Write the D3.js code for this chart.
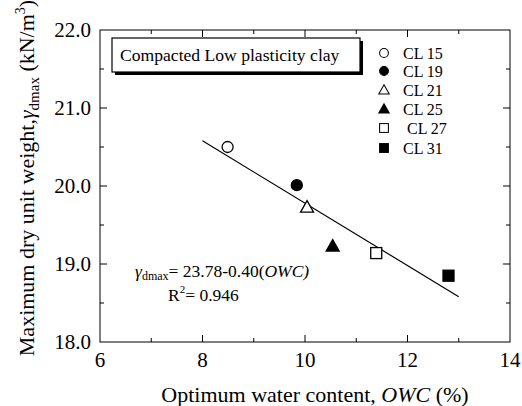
<!DOCTYPE html>
<html>
<head>
<meta charset="utf-8">
<script src="https://cdn.jsdelivr.net/npm/d3@7"></script>
<style>
  body { margin: 0; background: #fff; }
  svg { font-family: "Liberation Serif", "Times New Roman", serif; }
</style>
</head>
<body>
<svg id="chart" width="522" height="406"></svg>
<script>
// data
var samples = ["CL 15", "CL 19", "CL 21", "CL 25", "CL 27", "CL 31"];
var owc = [8.49, 9.84, 10.04, 10.54, 11.39, 12.80];
var gammaMax = [20.50, 20.01, 19.73, 19.23, 19.14, 18.85];
var shapes = ["circle", "circle", "triangle", "triangle", "square", "square"];
var filled = [false, true, false, true, false, true];
var fitX = [8.0, 13.0];
var xTicks = [6, 8, 10, 12, 14];
var yTicks = [18.0, 19.0, 20.0, 21.0, 22.0];

var margin = {top: 30, right: 12, bottom: 64, left: 100},
    width = 522 - margin.left - margin.right,
    height = 406 - margin.top - margin.bottom;

var svg = d3.select("#chart")
  .append("g")
  .attr("transform", "translate(" + margin.left + "," + margin.top + ")");

var x = d3.scaleLinear().domain([6, 14]).range([0, width]);
var y = d3.scaleLinear().domain([18, 22]).range([height, 0]);

// frame
svg.append("rect")
  .attr("width", width).attr("height", height)
  .attr("fill", "none").attr("stroke", "#000").attr("stroke-width", 1);

// ticks inward on all four sides
var minorX = d3.range(7, 14, 2);
var minorY = d3.range(18.5, 22, 1);
function tickLines(vals, len, horiz) {
  vals.forEach(function(v) {
    if (horiz) {
      svg.append("line").attr("x1", x(v)).attr("x2", x(v)).attr("y1", height).attr("y2", height - len).attr("stroke", "#000");
      svg.append("line").attr("x1", x(v)).attr("x2", x(v)).attr("y1", 0).attr("y2", len).attr("stroke", "#000");
    } else {
      svg.append("line").attr("y1", y(v)).attr("y2", y(v)).attr("x1", 0).attr("x2", len).attr("stroke", "#000");
      svg.append("line").attr("y1", y(v)).attr("y2", y(v)).attr("x1", width).attr("x2", width - len).attr("stroke", "#000");
    }
  });
}
tickLines(xTicks.slice(1, -1), 7, true);
tickLines(minorX, 4, true);
tickLines(yTicks.slice(1, -1), 7, false);
tickLines(minorY, 4, false);

// tick labels
svg.selectAll(".xlab").data(xTicks).enter().append("text")
  .attr("x", function(d) { return x(d); })
  .attr("y", height + 25)
  .attr("text-anchor", "middle")
  .attr("font-size", 21)
  .text(function(d) { return d; });

svg.selectAll(".ylab").data(yTicks).enter().append("text")
  .attr("x", -9)
  .attr("y", function(d) { return y(d) + 7; })
  .attr("text-anchor", "end")
  .attr("font-size", 21)
  .text(function(d) { return d.toFixed(1); });

// axis titles
svg.append("text")
  .attr("x", width / 2 + 10)
  .attr("y", height + 60)
  .attr("text-anchor", "middle")
  .attr("font-size", 22)
  .html('Optimum water content,  <tspan font-style="italic">OWC</tspan> (%)');

svg.append("text")
  .attr("transform", "translate(-66," + (height / 2 - 8) + ") rotate(-90)")
  .attr("text-anchor", "middle")
  .attr("font-size", 22)
  .html('Maximum dry unit weight,<tspan font-style="italic">γ</tspan><tspan font-size="15" dy="5">dmax</tspan><tspan dy="-5"> (kN/m</tspan><tspan font-size="14" dy="-9">3</tspan><tspan dy="9">)</tspan>');

// fit line
svg.append("line")
  .attr("x1", x(fitX[0])).attr("y1", y(23.78 - 0.40 * fitX[0]))
  .attr("x2", x(fitX[1])).attr("y2", y(23.78 - 0.40 * fitX[1]))
  .attr("stroke", "#000").attr("stroke-width", 1.2);

// markers
function marker(g, shape, fill, cx, cy) {
  var f = fill ? "#000" : "#fff";
  if (shape == "circle") {
    g.append("circle").attr("cx", cx).attr("cy", cy).attr("r", 5.5)
      .attr("fill", f).attr("stroke", "#000").attr("stroke-width", 1.3);
  } else if (shape == "square") {
    g.append("rect").attr("x", cx - 5.5).attr("y", cy - 5.5).attr("width", 11).attr("height", 11)
      .attr("fill", f).attr("stroke", "#000").attr("stroke-width", 1.3);
  } else {
    g.append("path")
      .attr("d", "M" + cx + "," + (cy - 6.5) + "L" + (cx + 6.5) + "," + (cy + 5) + "L" + (cx - 6.5) + "," + (cy + 5) + "Z")
      .attr("fill", f).attr("stroke", "#000").attr("stroke-width", 1.3);
  }
}
samples.forEach(function(s, i) {
  marker(svg, shapes[i], filled[i], x(owc[i]), y(gammaMax[i]));
});

// title box with shadow
var bx = 12, by = 8, bw = 248, bh = 34;
svg.append("rect").attr("x", bx + 3).attr("y", by + 3).attr("width", bw).attr("height", bh).attr("fill", "#000");
svg.append("rect").attr("x", bx).attr("y", by).attr("width", bw).attr("height", bh)
  .attr("fill", "#fff").attr("stroke", "#000").attr("stroke-width", 1.2);
svg.append("text").attr("x", bx + 8).attr("y", by + 23).attr("font-size", 17.6)
  .text("Compacted Low plasticity clay");

// legend
var legY = [53, 71, 90, 109, 128, 148];
samples.forEach(function(s, i) {
  var ly = legY[i] - margin.top;
  var g = svg.append("g");
  var sc = 0.8;
  marker(g, shapes[i], filled[i], 284, ly);
  g.select("*").attr("transform", "translate(" + (284 * (1 - sc)) + "," + (ly * (1 - sc)) + ") scale(" + sc + ")");
  g.append("text").attr("x", i == 4 ? 307 : 303).attr("y", ly + 6).attr("font-size", 16).text(s);
});

// equation
svg.append("text").attr("x", 35).attr("y", 247).attr("font-size", 17.5)
  .html('<tspan font-style="italic">γ</tspan><tspan font-size="12" dy="3">dmax</tspan><tspan dy="-3">= 23.78-0.40(</tspan><tspan font-style="italic">OWC)</tspan>');
svg.append("text").attr("x", 68).attr("y", 271).attr("font-size", 17.5)
  .html('R<tspan font-size="11" dy="-8">2</tspan><tspan dy="8">= 0.946</tspan>');
</script>
</body>
</html>
